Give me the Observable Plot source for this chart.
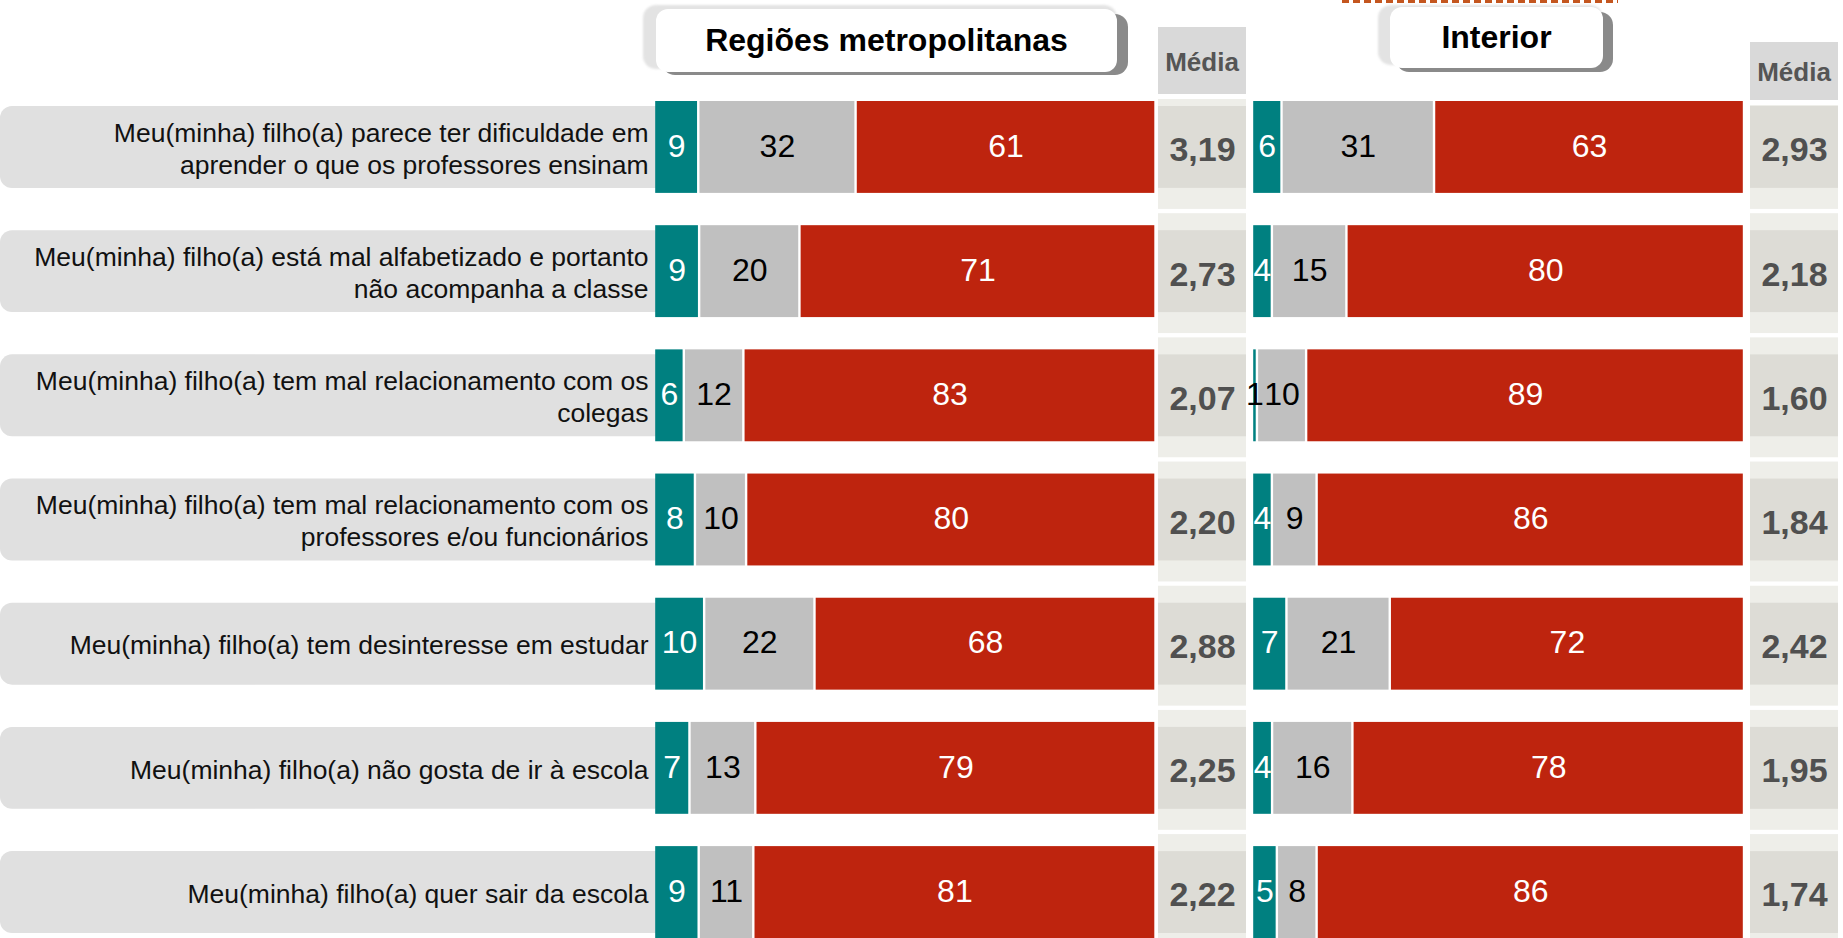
<!DOCTYPE html>
<html>
<head>
<meta charset="utf-8">
<script src="https://cdn.jsdelivr.net/npm/d3@7"></script>
<script src="https://cdn.jsdelivr.net/npm/@observablehq/plot@0.6"></script>
<style>
  html, body { margin: 0; padding: 0; background: #fff; }
  #chart { position: relative; width: 1843px; height: 938px; overflow: hidden; font-family: 'Liberation Sans', Arial, Helvetica, sans-serif; }
  #chart > * { position: absolute; }
  .hdr-glow { background: #e3e3e3; border-radius: 13px; filter: blur(1px); }
  .hdr-shadow { background: #8a8a8a; border-radius: 13px; }
  .hdr-box { background: #fff; border-radius: 12px; display: flex; align-items: center; justify-content: center; font-weight: bold; font-size: 32px; color: #000; }
  .media-hdr { background: #d9d9d9; display: flex; align-items: center; justify-content: center; font-weight: bold; font-size: 26px; color: #555; border-bottom: 5px solid #fff; padding-top: 3px; box-sizing: border-box; }
  .dash { height: 3px; background: repeating-linear-gradient(90deg, #c4561f 0 7px, transparent 7px 11px); }
</style>
</head>
<body>
<div id="chart"></div>
<script>
// ---------- data ----------
const items = [
  "Meu(minha) filho(a) parece ter dificuldade em\naprender o que os professores ensinam",
  "Meu(minha) filho(a) está mal alfabetizado e portanto\nnão acompanha a classe",
  "Meu(minha) filho(a) tem mal relacionamento com os\ncolegas",
  "Meu(minha) filho(a) tem mal relacionamento com os\nprofessores e/ou funcionários",
  "Meu(minha) filho(a) tem desinteresse em estudar",
  "Meu(minha) filho(a) não gosta de ir à escola",
  "Meu(minha) filho(a) quer sair da escola"
];
const seriesKeys = ["s1", "s2", "s3"];

const metroS1 = [9, 9, 6, 8, 10, 7, 9];
const metroS2 = [32, 20, 12, 10, 22, 13, 11];
const metroS3 = [61, 71, 83, 80, 68, 79, 81];
const metroMedia = [3.19, 2.73, 2.07, 2.20, 2.88, 2.25, 2.22];

const intS1 = [6, 4, 1, 4, 7, 4, 5];
const intS2 = [31, 15, 10, 9, 21, 16, 8];
const intS3 = [63, 80, 89, 86, 72, 78, 86];
const intMedia = [2.93, 2.18, 1.60, 1.84, 2.42, 1.95, 1.74];

const panelTitles = ["Regiões metropolitanas", "Interior"];
const mediaTitle = "Média";

// ---------- styles ----------
const FONT = "'Liberation Sans', Arial, Helvetica, sans-serif";
const seriesColors = ["#008080", "#c0c0c0", "#be240e"];
const H = 938;
const yOpts = {domain: items, axis: null, paddingInner: 0.26, paddingOuter: 0, align: 0.5, round: false};
const frameOpts = {height: H, marginTop: 101, marginBottom: 0, marginLeft: 0, marginRight: 0,
  style: {background: "transparent", fontFamily: FONT, overflow: "visible"}};

const chart = document.getElementById("chart");
function place(node, left, top) {
  node.style.position = "absolute";
  node.style.left = left + "px";
  node.style.top = top + "px";
  chart.appendChild(node);
  return node;
}
function div(cls, left, top, w, h, text) {
  const d = document.createElement("div");
  d.className = cls;
  d.style.width = w + "px";
  d.style.height = h + "px";
  if (text) d.textContent = text;
  return place(d, left, top);
}

// ---------- label column ----------
const labelPlot = Plot.plot({
  ...frameOpts, width: 672,
  x: {domain: [0, 1], axis: null},
  y: yOpts,
  marks: [
    Plot.barX(items, {x1: 0, x2: 1, y: d => d, fill: "#e0e0e0", insetTop: 5, insetBottom: 5, rx: 12}),
    Plot.text(items, {x: 1, y: d => d, text: d => d, textAnchor: "end", dx: -24, dy: 0,
      fontSize: 26.5, lineHeight: 1.21, fill: "#111", fontFamily: FONT})
  ]
});
place(labelPlot, 0, 0);

// ---------- stacked bars ----------
function barPlot(s1, s2, s3, width) {
  const vals = [s1, s2, s3];
  const rows = items.flatMap((it, i) => seriesKeys.map((k, j) => ({item: it, cat: k, value: vals[j][i]})));
  const st = o => Plot.stackX({x: "value", y: "item", z: "cat", offset: "normalize", ...o});
  const light = d => d.cat !== "s2" && d.value >= 2;
  return Plot.plot({
    ...frameOpts, width,
    x: {domain: [0, 1], axis: null},
    y: yOpts,
    color: {domain: seriesKeys, range: seriesColors},
    marks: [
      Plot.barX(rows, st({fill: "cat", insetLeft: 1.2, insetRight: 1.2})),
      Plot.text(rows, st({text: d => light(d) ? String(d.value) : null, fill: "white",
        fontSize: 32, dy: -1, fontFamily: FONT})),
      Plot.text(rows, st({text: d => light(d) ? null : String(d.value), fill: "#000",
        fontSize: 32, dy: -1, fontFamily: FONT}))
    ]
  });
}
place(barPlot(metroS1, metroS2, metroS3, 501.5), 654, 0);
place(barPlot(intS1, intS2, intS3, 492), 1252, 0);

// ---------- média columns ----------
const fmt = v => v.toFixed(2).replace(".", ",");
function mediaPlot(values) {
  const rows = items.map((it, i) => ({item: it, v: values[i]}));
  return Plot.plot({
    ...frameOpts, width: 88,
    x: {domain: [0, 1], axis: null},
    y: yOpts,
    marks: [
      Plot.barX(rows, {x1: 0, x2: 1, y: "item", fill: "#eeeee9", insetTop: -12, insetBottom: -16}),
      Plot.barX(rows, {x1: 0, x2: 1, y: "item", fill: "#dddcd6", insetTop: 5, insetBottom: 5}),
      Plot.text(rows, {x: 0.5, y: "item", text: d => fmt(d.v), fontSize: 34, fontWeight: "bold",
        fill: "#505050", dy: 3, fontFamily: FONT})
    ]
  });
}
place(mediaPlot(metroMedia), 1158, 0);
place(mediaPlot(intMedia), 1750, 0);

// ---------- headers ----------
div("hdr-glow", 643, 5, 474, 64);
div("hdr-shadow", 662, 14, 466, 61);
div("hdr-box", 656, 9, 461, 63, panelTitles[0]);

div("dash", 1342, 0, 276, 3);
div("hdr-glow", 1378, 5, 225, 60);
div("hdr-shadow", 1396, 12, 217, 60);
div("hdr-box", 1390, 7, 213, 61, panelTitles[1]);

div("media-hdr", 1158, 27, 88, 72, mediaTitle);
div("media-hdr", 1750, 42, 88, 63, mediaTitle);
</script>
</body>
</html>
